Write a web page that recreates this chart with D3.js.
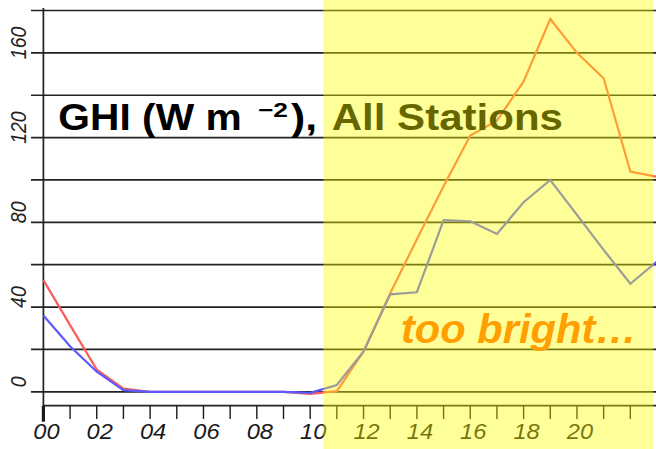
<!DOCTYPE html>
<html>
<head>
<meta charset="utf-8">
<script src="https://cdn.jsdelivr.net/npm/d3@7"></script>
<style>
  body { margin: 0; background: #fff; }
  svg { display: block; }
  text { font-family: "Liberation Sans", Arial, sans-serif; }
</style>
</head>
<body>
<div class="d3-div"></div>
<script>
// Hours of the day (x categories).
var hours = [0, 1, 2, 3, 4, 5, 6, 7, 8, 9, 10, 11, 12, 13, 14, 15, 16, 17, 18, 19, 20, 21, 22, 23];
// Red line (turns orange under the yellow box).
var modelGHI = [52.7, 31.5, 10.5, 1.5, 0, 0, 0, 0, 0, 0, -1, 0.3, 19, 46.5, 72, 97, 121, 128, 146.5, 176, 160, 148, 104, 101.5];
// Blue line (turns grey under the yellow box).
var observedGHI = [36, 21.5, 9.5, 0.8, 0, 0, 0, 0, 0, 0, -0.5, 3.2, 19, 46, 47, 81, 80.5, 74.5, 89.5, 100, 83.5, 67, 51, 61.5];
// Axis ticks.
var gridValues = [0, 20, 40, 60, 80, 100, 120, 140, 160, 180];
var yLabels = [0, 40, 80, 120, 160];
var xLabelHours = [0, 2, 4, 6, 8, 10, 12, 14, 16, 18, 20];
var xLabels = ["00", "02", "04", "06", "08", "10", "12", "14", "16", "18", "20"];

var width = 656;
var height = 449;
var axisX = 43.4;     // vertical axis position
var axisY = 405.7;    // horizontal axis position
var stretch = 1.1;    // the picture is a bit wider than tall

var svg = d3.select(".d3-div")
    .append("svg")
    .attr("width", width)
    .attr("height", height);

var x = d3.scaleLinear().domain([0, 23]).range([axisX, 657]);
var y = d3.scaleLinear().domain([0, 180]).range([391.8, 10.5]);

// Gridlines, running a bit left of the axis like ticks.
svg.append("g")
    .selectAll("line")
    .data(gridValues)
    .enter()
    .append("line")
    .attr("x1", 31)
    .attr("x2", width)
    .attr("y1", d => y(d))
    .attr("y2", d => y(d))
    .attr("stroke", "#222")
    .attr("stroke-width", 1.7);

// Axis lines.
svg.append("line")
    .attr("x1", axisX).attr("x2", axisX)
    .attr("y1", 8).attr("y2", axisY)
    .attr("stroke", "#222").attr("stroke-width", 1.7);
svg.append("line")
    .attr("x1", axisX).attr("x2", width)
    .attr("y1", axisY).attr("y2", axisY)
    .attr("stroke", "#222").attr("stroke-width", 1.7);

// Hour ticks, the first one heavier.
svg.append("g")
    .selectAll("line")
    .data(hours)
    .enter()
    .append("line")
    .attr("x1", d => x(d))
    .attr("x2", d => x(d))
    .attr("y1", axisY)
    .attr("y2", d => d === 0 ? 421.7 : 419)
    .attr("stroke", "#1a1a1a")
    .attr("stroke-width", d => d === 0 ? 3.2 : 1.4);

// Hour labels.
svg.append("g")
    .selectAll("text")
    .data(xLabelHours)
    .enter()
    .append("text")
    .attr("transform", d => "translate(" + (x(d) + 3) + ",438.5) scale(" + stretch + ",1)")
    .attr("text-anchor", "middle")
    .attr("font-size", 21.5)
    .attr("font-style", "italic")
    .attr("fill", "#1a1a1a")
    .text((d, i) => xLabels[i]);

// Rotated y labels.
svg.append("g")
    .selectAll("text")
    .data(yLabels)
    .enter()
    .append("text")
    .attr("transform", d => "translate(25.5," + (y(d) - 10) + ") scale(" + stretch + ",1) rotate(-90)")
    .attr("text-anchor", "middle")
    .attr("font-size", 19.5)
    .attr("font-style", "italic")
    .attr("fill", "#222")
    .text(d => d);

// The two lines.
var line = d3.line()
    .x((d, i) => x(hours[i]))
    .y(d => y(d));

svg.append("path")
    .datum(modelGHI)
    .attr("d", line)
    .attr("fill", "none")
    .attr("stroke", "#ff5a5a")
    .attr("stroke-width", 2.2);

svg.append("path")
    .datum(observedGHI)
    .attr("d", line)
    .attr("fill", "none")
    .attr("stroke", "#5a5aff")
    .attr("stroke-width", 2.2);

// Title, drawn in black; the yellow box tints the right half.
var title = svg.append("g")
    .attr("font-weight", "bold")
    .attr("fill", "#000");
title.append("text")
    .attr("x", 58.3).attr("y", 130)
    .attr("font-size", 37.5)
    .attr("textLength", 183.4).attr("lengthAdjust", "spacingAndGlyphs")
    .text("GHI (W m");
title.append("text")
    .attr("x", 258).attr("y", 116.5)
    .attr("font-size", 21)
    .attr("textLength", 30).attr("lengthAdjust", "spacingAndGlyphs")
    .text("\u22122");
title.append("text")
    .attr("x", 291).attr("y", 130)
    .attr("font-size", 37.5)
    .attr("textLength", 26).attr("lengthAdjust", "spacingAndGlyphs")
    .text("),");
title.append("text")
    .attr("x", 331.7).attr("y", 130)
    .attr("font-size", 37.5)
    .attr("textLength", 231.3).attr("lengthAdjust", "spacingAndGlyphs")
    .text("All Stations");

// Translucent yellow box over the daytime hours.
svg.append("rect")
    .attr("x", 323.3)
    .attr("y", 0)
    .attr("width", 653.3 - 323.3)
    .attr("height", height)
    .attr("fill", "#ffff00")
    .attr("fill-opacity", 0.4);

// Annotation on top of the box.
svg.append("text")
    .attr("x", 401).attr("y", 342.7)
    .attr("font-size", 40)
    .attr("font-weight", "bold")
    .attr("font-style", "italic")
    .attr("fill", "#ffa000")
    .attr("textLength", 236).attr("lengthAdjust", "spacingAndGlyphs")
    .text("too bright\u2026");
</script>
</body>
</html>
